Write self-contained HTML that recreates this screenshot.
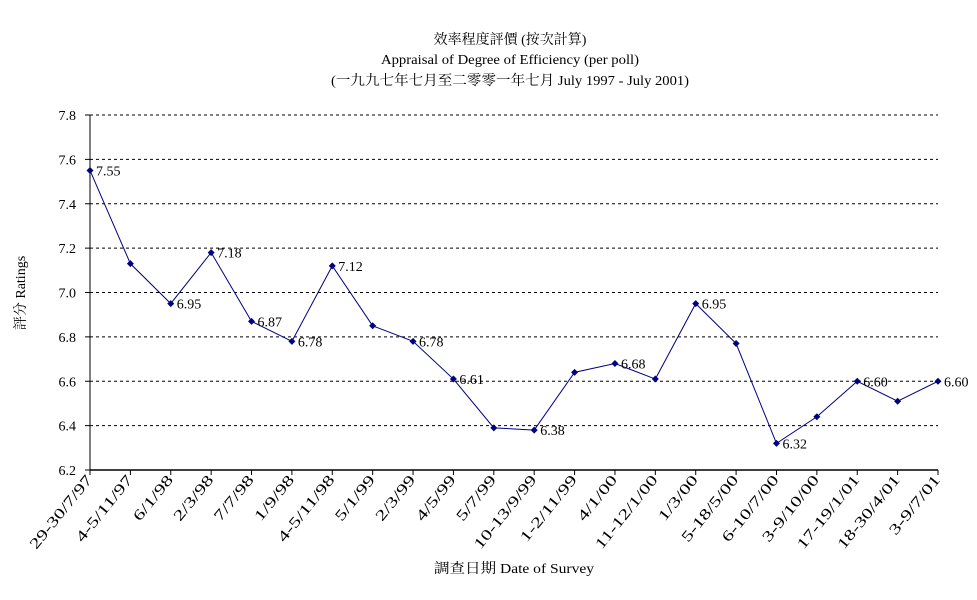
<!DOCTYPE html>
<html><head><meta charset="utf-8"><style>
body{margin:0;background:#fff;}
svg{display:block;font-family:"Liberation Serif","Noto Serif CJK TC",serif;}
</style></head><body>
<svg id="chart" width="977" height="600" xmlns="http://www.w3.org/2000/svg">
<text x="510" y="44" font-size="14" text-anchor="middle">效率程度評價 (按次計算)</text>
<text x="510" y="64" font-size="14" text-anchor="middle" textLength="258" lengthAdjust="spacingAndGlyphs">Appraisal of Degree of Efficiency (per poll)</text>
<text x="510" y="85" font-size="14" text-anchor="middle" textLength="358" lengthAdjust="spacingAndGlyphs">(一九九七年七月至二零零一年七月 July 1997 - July 2001)</text>
<text transform="translate(25,293) rotate(-90)" font-size="14" text-anchor="middle">評分 Ratings</text>
<text x="514" y="573" font-size="14" text-anchor="middle" textLength="160" lengthAdjust="spacingAndGlyphs">調查日期 Date of Survey</text>
<g id="grid"></g><g id="axes"></g><g id="series"></g>
</svg>
<script>
const categories=["29-30/7/97","4-5/11/97","6/1/98","2/3/98","7/7/98","1/9/98","4-5/11/98","5/1/99","2/3/99","4/5/99","5/7/99","10-13/9/99","1-2/11/99","4/1/00","11-12/1/00","1/3/00","5-18/5/00","6-10/7/00","3-9/10/00","17-19/1/01","18-30/4/01","3-9/7/01"];
const ratings=[7.55,7.13,6.95,7.18,6.87,6.78,7.12,6.85,6.78,6.61,6.39,6.38,6.64,6.68,6.61,6.95,6.77,6.32,6.44,6.60,6.51,6.60];
const labelled=[0,2,3,4,5,6,8,9,11,13,15,17,19,21];
const yTicks=[6.2,6.4,6.6,6.8,7.0,7.2,7.4,7.6,7.8];
const NS="http://www.w3.org/2000/svg";
const X0=90,X1=938,Y0=470,Y1=115,ymin=6.2,ymax=7.8;
const xs=i=>X0+i*(X1-X0)/(categories.length-1);
const ys=v=>Y0-(v-ymin)/(ymax-ymin)*(Y0-Y1);
function mk(t,a,p){const e=document.createElementNS(NS,t);for(const k in a)e.setAttribute(k,a[k]);p.appendChild(e);return e;}
const grid=document.getElementById('grid'),axes=document.getElementById('axes'),ser=document.getElementById('series');
yTicks.forEach(v=>{
  if(v>ymin){const l=mk('line',{x1:X0,x2:X1,y1:ys(v),y2:ys(v),stroke:'#000','stroke-dasharray':'3,3','stroke-width':1},grid);
  
  }
  const t=mk('text',{x:76,y:ys(v)+5,'font-size':14,'text-anchor':'end'},axes);t.textContent=v.toFixed(1);
  
  
  const tk=mk('line',{x1:X0-5,x2:X0,y1:ys(v),y2:ys(v),stroke:'#000'},axes);
  
  
});
const ya=mk('line',{x1:X0,x2:X0,y1:Y1,y2:Y0,stroke:'#000'},axes);


const xa=mk('line',{x1:X0,x2:X1,y1:Y0,y2:Y0,stroke:'#000','stroke-width':1.5},axes);


categories.forEach((c,i)=>{
  const tk=mk('line',{x1:xs(i),x2:xs(i),y1:Y0,y2:Y0+5,stroke:'#000'},axes);
  
  
  const t=mk('text',{transform:`translate(${xs(i)+3},${Y0+10}) rotate(-51)`,'font-size':15,'text-anchor':'end',textLength:c.length*9,lengthAdjust:'spacingAndGlyphs'},axes);t.textContent=c;
  
  
});
const pl=mk('polyline',{points:ratings.map((v,i)=>xs(i)+','+ys(v)).join(' '),fill:'none',stroke:'#000080','stroke-width':1},ser);


ratings.forEach((v,i)=>{
  const x=xs(i),y=ys(v);
  const p=mk('polygon',{points:`${x},${y-3.5} ${x+3.5},${y} ${x},${y+3.5} ${x-3.5},${y}`,fill:'#000080'},ser);
  
  
  if(labelled.includes(i)){
    const t=mk('text',{x:x+6,y:y+5,'font-size':14},ser);t.textContent=v.toFixed(2);
    
    
  }
});
</script>
</body></html>
